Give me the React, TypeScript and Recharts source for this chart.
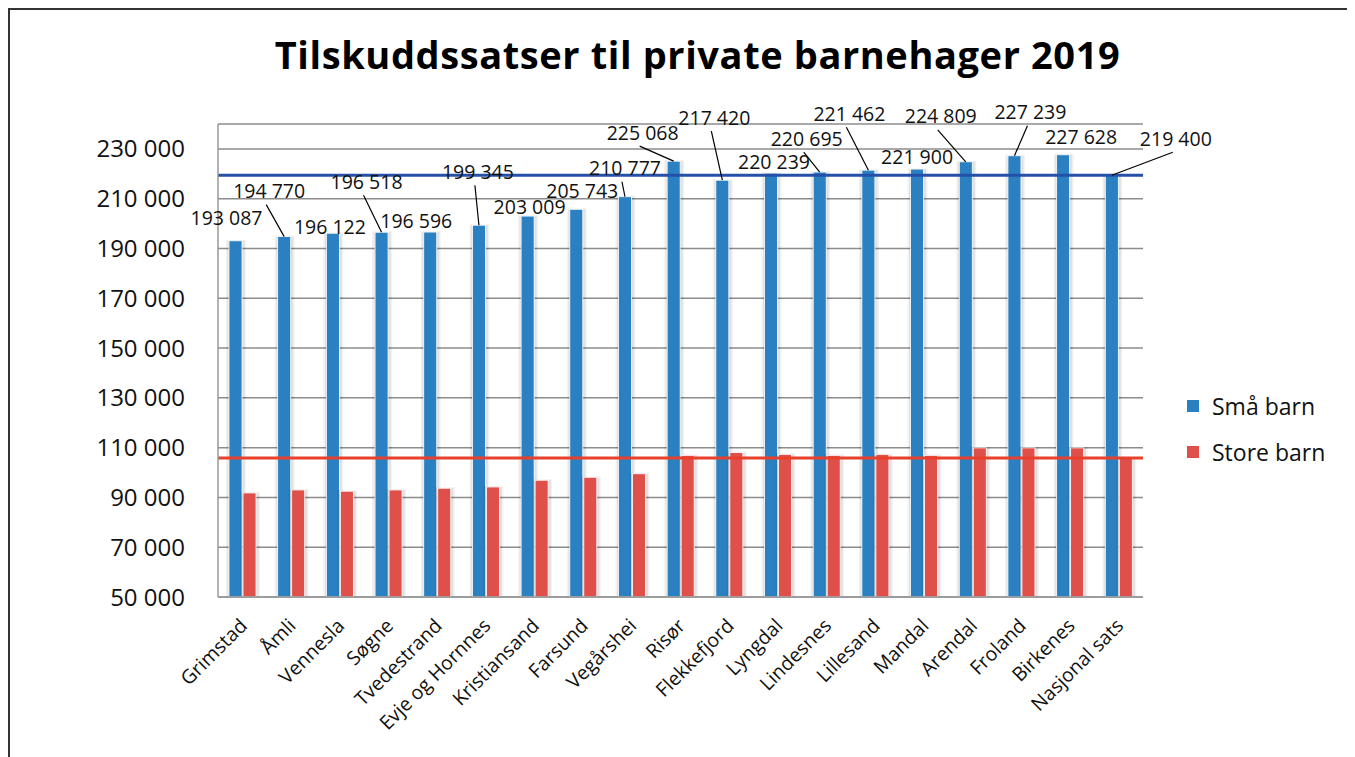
import React from 'react';
import { BarChart, Bar, XAxis, YAxis, CartesianGrid, ReferenceLine, LabelList, Legend } from 'recharts';

const categories = ['Grimstad', 'Åmli', 'Vennesla', 'Søgne', 'Tvedestrand', 'Evje og Hornnes', 'Kristiansand', 'Farsund', 'Vegårshei', 'Risør', 'Flekkefjord', 'Lyngdal', 'Lindesnes', 'Lillesand', 'Mandal', 'Arendal', 'Froland', 'Birkenes', 'Nasjonal sats'];
const smaBarn = [193087, 194770, 196122, 196518, 196596, 199345, 203009, 205743, 210777, 225068, 217420, 220239, 220695, 221462, 221900, 224809, 227239, 227628, 219400];
const storeBarn = [91800, 93000, 92500, 93000, 93700, 94200, 96900, 98100, 99500, 106900, 108000, 107300, 106900, 107300, 106900, 109900, 109900, 109900, 105600];
const yTicks = [50000, 70000, 90000, 110000, 130000, 150000, 170000, 190000, 210000, 230000];
const nasjonalSma = 219400;
const nasjonalStore = 105800;
const seriesNames = ['Små barn', 'Store barn'];
const title = 'Tilskuddssatser til private barnehager 2019';

// label placement: [dx, dy, leader]
const labelLayout: [number, number, boolean][] = [
  [-9, -23, false], [-15, -46, true], [-3, -7, false], [-15, -51, true], [-14, -12, false],
  [-1, -54, true], [2, -10, false], [6, -19, false], [0, -29, true], [-31, -29, true],
  [-8, -63, true], [3, -12, false], [-13, -34, true], [-19, -57, true], [0, -13, false],
  [-25, -46, true], [16, -44, true], [18, -18, false], [64, -37, true],
];

const BLUE = '#2A80C0';
const RED = '#E0504A';
const FONT = '"Open Sans", sans-serif';

const fmt = (v: number) => String(v).replace(/\B(?=(\d{3})+(?!\d))/g, ' ');

const data = categories.map((name, i) => ({ name, sma: smaBarn[i], store: storeBarn[i] }));

const BarShape = (props: any) => {
  const { x, y, width, height, fill } = props;
  if (!height || height <= 0) return null;
  return (
    <g>
      <rect x={x - 3} y={y - 1} width={width + 7} height={height + 1} fill="#000" opacity={0.05} />
      <rect x={x - 1.5} y={y} width={width + 4} height={height} fill="#000" opacity={0.07} />
      <rect x={x} y={y} width={width} height={height} fill={fill} stroke="#fff" strokeWidth={0.8} />
    </g>
  );
};

const SmaLabel = (props: any) => {
  const { x, y, width, index, value } = props;
  const [dx, dy, leader] = labelLayout[index];
  const cx = Number(x) + Number(width) / 2;
  const top = Number(y);
  const lx = cx + dx;
  const ly = top + dy;
  return (
    <g>
      {leader && <line x1={lx - 3} y1={ly + 14} x2={cx} y2={top} stroke="#000" strokeWidth={1.2} />}
      <text x={lx} y={ly} textAnchor="middle" dominantBaseline="central" fontSize={19.5} fontFamily={FONT} fill="#111">
        {fmt(value)}
      </text>
    </g>
  );
};

const XTick = (props: any) => {
  const { x, y, payload } = props;
  const tx = x + 6;
  const ty = y + 30;
  return (
    <text x={tx} y={ty} textAnchor="end" fontSize={19.5} fontFamily={FONT} fill="#111" transform={`rotate(-45, ${tx}, ${ty})`}>
      {payload.value}
    </text>
  );
};

const LegendContent = () => (
  <div style={{ fontFamily: FONT, fontSize: 23, color: '#111' }}>
    {seriesNames.map((n, i) => (
      <div key={n} style={{ display: 'flex', alignItems: 'center', height: 46 }}>
        <span style={{ display: 'inline-block', width: 12, height: 12, background: i === 0 ? BLUE : RED, marginRight: 13 }} />
        <span>{n}</span>
      </div>
    ))}
  </div>
);

export default function App() {
  return (
    <div style={{ position: 'relative', width: 1360, height: 760, boxSizing: 'border-box', borderLeft: '2px solid #333', borderTop: '2px solid #333', background: '#fff', overflow: 'hidden' }}>
      <style>{'html,body{overflow:hidden;}'}</style>
      <div style={{ position: 'absolute', left: 0, width: 1375, top: 24, textAlign: 'center', fontFamily: FONT, fontWeight: 700, fontSize: 38, letterSpacing: 0.6, lineHeight: '40px', color: '#000' }}>
        {title}
      </div>
      <BarChart width={1360} height={745} data={data} accessibilityLayer={false} margin={{ top: 114, left: 128, right: 227, bottom: 58 }} barSize={13} barGap={1}>
        <CartesianGrid horizontal vertical={false} stroke="#8c8c8c" strokeWidth={1.5} />
        <XAxis dataKey="name" interval={0} tickLine={false} tickSize={0} tickMargin={0} axisLine={{ stroke: '#999', strokeWidth: 1.5 }} height={100} tick={<XTick />} />
        <YAxis domain={[50000, 240000]} ticks={yTicks} allowDataOverflow width={80} tickLine={false} tickSize={0} tickMargin={33} axisLine={{ stroke: '#999', strokeWidth: 1.5 }} tickFormatter={fmt} tick={{ fontSize: 24, fontFamily: FONT, fill: '#111' }} />
        <Legend layout="vertical" align="center" verticalAlign="middle" wrapperStyle={{ position: 'absolute', left: 1177, top: 373, width: 160 }} content={<LegendContent />} />
        <Bar dataKey="sma" name={seriesNames[0]} fill={BLUE} shape={<BarShape />} isAnimationActive={false}>
          <LabelList dataKey="sma" content={<SmaLabel />} />
        </Bar>
        <Bar dataKey="store" name={seriesNames[1]} fill={RED} shape={<BarShape />} isAnimationActive={false} />
        <ReferenceLine y={nasjonalSma} stroke="#2450A8" strokeWidth={3} />
        <ReferenceLine y={nasjonalStore} stroke="#E8402A" strokeWidth={3} />
      </BarChart>
    </div>
  );
}
